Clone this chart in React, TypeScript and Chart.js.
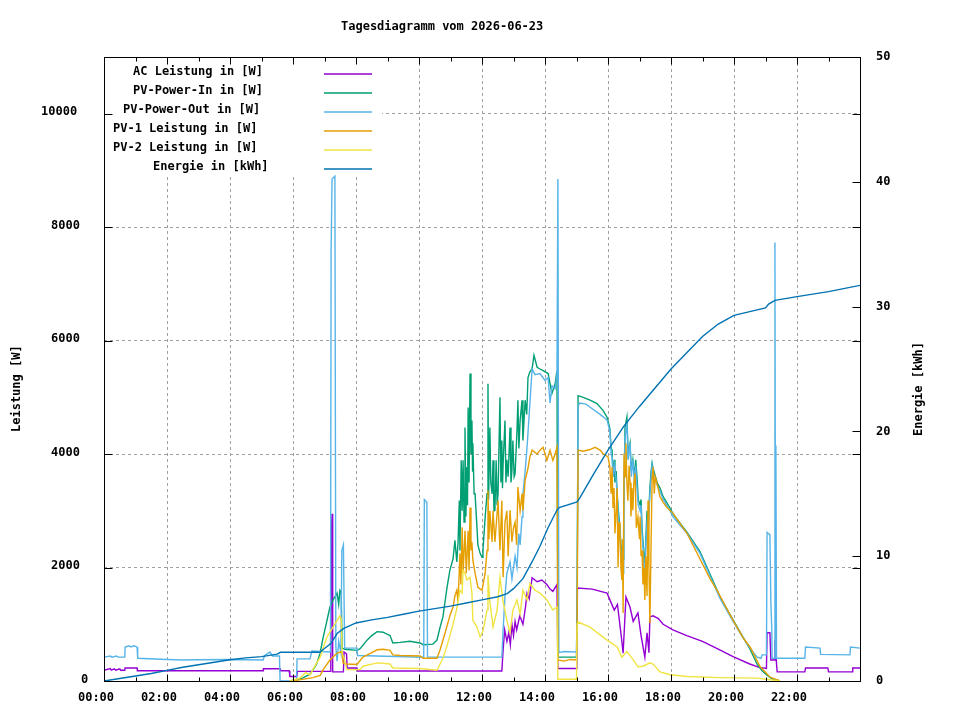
import { useEffect, useRef } from "react";
import { Chart, registerables } from "chart.js";
Chart.register(...registerables);

const FONT = '"DejaVu Sans Mono", monospace';

const chartTitle = "Tagesdiagramm vom 2026-06-23";
const leftAxisTitle = "Leistung [W]";
const rightAxisTitle = "Energie [kWh]";

const hourTicks = [0, 2, 4, 6, 8, 10, 12, 14, 16, 18, 20, 22, 24];
const hourLabels = ["00:00", "02:00", "04:00", "06:00", "08:00", "10:00", "12:00", "14:00", "16:00", "18:00", "20:00", "22:00", ""];
const powerTicks = [0, 2000, 4000, 6000, 8000, 10000];
const energyTicks = [0, 10, 20, 30, 40, 50];

const seriesLabels = [
  "AC Leistung in [W]",
  "PV-Power-In in [W]",
  "PV-Power-Out in [W]",
  "PV-1 Leistung in [W]",
  "PV-2 Leistung in [W]",
  "Energie in [kWh]",
];
const seriesColors = ["#9400d3", "#009e73", "#56b4e9", "#e69f00", "#f0e442", "#0072b2"];

// [hour, W]
const acPower: [number, number][] = [
  [0, 190], [0.2, 220], [0.23, 190], [0.33, 215], [0.37, 190], [0.5, 215], [0.53, 190], [0.66, 190], [0.67, 230],
  [1.05, 230], [1.06, 180], [5.05, 180], [5.06, 215], [5.59, 215], [5.6, 180], [5.88, 180], [5.9, 80], [6.12, 80],
  [6.14, 170], [7.2, 170], [7.21, 2500], [7.24, 2950], [7.26, 160], [7.6, 160], [7.62, 510], [7.7, 480], [7.72, 230],
  [8.03, 230], [8.05, 175], [12.63, 175], [12.67, 545], [12.72, 900], [12.79, 700], [12.85, 850], [12.9, 640],
  [12.95, 1000], [13.0, 800], [13.05, 1050], [13.1, 900], [13.2, 1150], [13.3, 1000], [13.38, 1300], [13.43, 1550],
  [13.5, 1450], [13.59, 1820], [13.75, 1750], [13.9, 1780], [14.06, 1700], [14.16, 1620], [14.25, 1580], [14.38, 1700],
  [14.41, 220], [15.01, 220], [15.03, 1640], [15.5, 1620], [15.97, 1550], [16.06, 1430], [16.2, 1250], [16.3, 1350],
  [16.44, 700], [16.48, 490], [16.57, 1480], [16.7, 1300], [16.8, 1050], [16.95, 1200], [17.05, 800], [17.17, 420],
  [17.24, 850], [17.3, 500], [17.33, 1130], [17.43, 1150], [17.6, 1100], [17.75, 1000], [18.06, 900], [18.5, 800],
  [19.0, 700], [19.5, 560], [19.97, 430], [20.5, 300], [20.8, 240], [21.03, 220], [21.05, 850], [21.14, 850],
  [21.17, 370], [21.28, 370], [21.3, 720], [21.35, 300], [21.37, 160], [22.25, 160], [22.27, 230], [22.98, 230],
  [23.0, 160], [23.75, 160], [23.77, 230], [24, 230],
];

const pvPowerIn: [number, number][] = [
  [5.9, 0], [6.3, 50], [6.54, 120], [6.63, 190], [6.75, 300], [6.86, 490], [6.95, 750], [7.08, 1070], [7.17, 1300],
  [7.27, 1430], [7.35, 1500], [7.4, 1550], [7.45, 1350], [7.49, 1600], [7.53, 1570], [7.56, 580], [7.65, 560],
  [8.03, 540], [8.13, 570], [8.35, 720], [8.5, 800], [8.67, 870], [8.86, 860], [9.0, 820], [9.08, 800], [9.17, 670],
  [9.4, 680], [9.71, 700], [10.03, 670], [10.13, 640], [10.44, 650], [10.57, 720], [10.67, 950], [10.76, 1130],
  [10.89, 1650], [10.98, 1950], [11.08, 2150], [11.14, 2480], [11.2, 2100], [11.24, 2450], [11.28, 3180], [11.3, 2300],
  [11.34, 3890], [11.37, 3000], [11.4, 3890], [11.43, 2800], [11.46, 4470], [11.49, 2900], [11.52, 3770], [11.54, 3100],
  [11.56, 4820], [11.59, 3500], [11.62, 5420], [11.65, 4000], [11.68, 4590], [11.7, 3700], [11.71, 4190], [11.75, 3300],
  [11.78, 3300], [11.84, 2710], [11.87, 2400], [11.94, 2250], [12.0, 2180], [12.03, 2300], [12.1, 2890], [12.16, 3300],
  [12.19, 5240], [12.21, 3200], [12.25, 4470], [12.28, 3500], [12.32, 3300], [12.35, 3890], [12.38, 3000], [12.41, 3010],
  [12.45, 3890], [12.48, 3100], [12.51, 3300], [12.57, 5000], [12.6, 3500], [12.63, 4240], [12.65, 3400], [12.67, 3830],
  [12.73, 4590], [12.76, 3500], [12.79, 3900], [12.83, 3600], [12.89, 4470], [12.92, 3500], [12.95, 3710], [12.98, 4240],
  [13.02, 3600], [13.05, 3650], [13.11, 4400], [13.14, 4950], [13.17, 4100], [13.21, 4590], [13.27, 4950], [13.3, 4240],
  [13.37, 4950], [13.42, 4700], [13.46, 5350], [13.52, 5450], [13.59, 5500], [13.65, 5740], [13.75, 5530], [13.84, 5500],
  [13.94, 5470], [14.1, 5420], [14.16, 5240], [14.22, 5070], [14.32, 5240], [14.38, 5470], [14.41, 420], [15.0, 420],
  [15.02, 1500], [15.05, 5030], [15.21, 5000], [15.43, 4950], [15.65, 4890], [15.84, 4770], [15.97, 4650], [16.06, 4450],
  [16.1, 4100], [16.13, 4070], [16.16, 3600], [16.2, 3900], [16.22, 3500], [16.26, 3700], [16.29, 3300], [16.33, 3000],
  [16.38, 2700], [16.41, 2400], [16.44, 2250], [16.48, 2150], [16.5, 3000], [16.54, 4470], [16.6, 4650], [16.64, 4000],
  [16.7, 4190], [16.74, 3700], [16.79, 3900], [16.84, 3600], [16.88, 3900], [16.92, 3600], [16.96, 3200], [17.02, 3100],
  [17.05, 3200], [17.08, 2700], [17.12, 2400], [17.17, 1950], [17.2, 2500], [17.24, 3000], [17.28, 2800], [17.33, 3400],
  [17.37, 3700], [17.4, 3840], [17.43, 3750], [17.56, 3500], [17.65, 3400], [17.75, 3250], [17.97, 3050], [18.06, 2950],
  [18.51, 2620], [18.92, 2280], [19.24, 1880], [19.56, 1480], [19.97, 1080], [20.3, 760], [20.51, 560], [20.73, 300],
  [20.89, 180], [21.05, 100], [21.2, 40], [21.46, 0],
];

const pvPowerOut: [number, number][] = [
  [0, 420], [0.2, 440], [0.25, 420], [0.4, 440], [0.45, 420], [0.66, 420], [0.67, 600], [0.8, 620], [0.85, 600],
  [0.95, 620], [1.05, 600], [1.07, 400], [2.0, 380], [2.5, 370], [3.0, 375], [4.0, 380], [5.05, 370], [5.1, 450],
  [5.27, 510], [5.35, 440], [5.57, 440], [5.59, 0], [6.11, 0], [6.13, 390], [6.54, 390], [6.6, 530], [7.19, 510],
  [7.21, 7600], [7.24, 8850], [7.33, 8900], [7.36, 600], [7.4, 350], [7.45, 700], [7.52, 500], [7.55, 2300], [7.6, 2400],
  [7.64, 580], [8.03, 580], [8.05, 450], [10.15, 420], [10.17, 3200], [10.25, 3150], [10.27, 420], [12.6, 420],
  [12.63, 420], [12.67, 900], [12.73, 1500], [12.79, 1900], [12.89, 2100], [12.95, 1800], [13.05, 2200], [13.11, 2000],
  [13.17, 2600], [13.21, 2400], [13.27, 2890], [13.3, 3300], [13.37, 3700], [13.43, 4120], [13.52, 4890], [13.59, 5500],
  [13.68, 5400], [13.84, 5420], [14.0, 5300], [14.1, 5350], [14.16, 4900], [14.22, 5200], [14.32, 5150], [14.38, 5400],
  [14.41, 8850], [14.44, 500], [14.6, 520], [15.0, 510], [15.02, 1450], [15.05, 4850], [15.11, 4900], [15.3, 4880],
  [15.5, 4800], [15.75, 4700], [15.97, 4600], [16.06, 4400], [16.1, 4000], [16.13, 3950], [16.16, 3600], [16.2, 3800],
  [16.22, 3700], [16.26, 3550], [16.29, 3300], [16.33, 2900], [16.38, 2650], [16.41, 2300], [16.44, 2200], [16.48, 1900],
  [16.5, 2900], [16.54, 4300], [16.6, 4550], [16.64, 3900], [16.7, 4200], [16.74, 3600], [16.79, 3900], [16.84, 3500],
  [16.88, 3800], [16.92, 3400], [16.96, 3100], [17.02, 3000], [17.05, 3100], [17.08, 2600], [17.12, 2300], [17.17, 1800],
  [17.2, 2400], [17.24, 2800], [17.28, 2700], [17.33, 3300], [17.37, 3600], [17.4, 3800], [17.43, 3700], [17.56, 3450],
  [17.65, 3350], [17.75, 3200], [17.97, 3000], [18.06, 2900], [18.51, 2600], [18.92, 2250], [19.24, 1850], [19.56, 1450],
  [19.97, 1050], [20.3, 750], [20.51, 580], [20.73, 420], [20.86, 400], [20.89, 460], [21.03, 460], [21.05, 2620],
  [21.14, 2580], [21.17, 1400], [21.2, 900], [21.21, 400], [21.28, 400], [21.3, 7730], [21.32, 400], [21.33, 4150],
  [21.35, 400], [22.25, 400], [22.27, 600], [22.73, 580], [22.75, 470], [23.68, 460], [23.7, 600], [24, 580],
];

const pv1Power: [number, number][] = [
  [5.9, 0], [6.2, 20], [6.63, 60], [6.86, 100], [6.95, 190], [7.17, 370], [7.4, 490], [7.55, 520], [7.59, 320],
  [7.71, 300], [8.03, 290], [8.22, 420], [8.5, 500], [8.67, 550], [8.86, 560], [9.08, 540], [9.17, 460], [9.4, 450],
  [10.03, 440], [10.13, 400], [10.57, 400], [10.67, 550], [10.83, 850], [10.98, 1150], [11.08, 1300], [11.14, 1500],
  [11.2, 1600], [11.24, 1400], [11.3, 2250], [11.33, 1700], [11.37, 2710], [11.4, 1900], [11.46, 2650], [11.5, 1900],
  [11.56, 2650], [11.59, 1950], [11.62, 3060], [11.65, 2300], [11.68, 2450], [11.71, 2130], [11.78, 1900], [11.87, 1650],
  [12.0, 1600], [12.1, 1900], [12.16, 2300], [12.19, 3360], [12.22, 2500], [12.25, 3000], [12.32, 2450], [12.35, 3000],
  [12.41, 2450], [12.51, 3180], [12.57, 2300], [12.63, 3180], [12.67, 1830], [12.73, 2800], [12.79, 3000], [12.83, 2200],
  [12.89, 3010], [12.95, 2450], [13.0, 2700], [13.05, 2800], [13.1, 2400], [13.14, 3420], [13.21, 3000], [13.27, 3300],
  [13.3, 3000], [13.37, 3540], [13.46, 3750], [13.52, 3950], [13.59, 4070], [13.75, 4000], [13.84, 4070], [13.94, 4120],
  [14.06, 3890], [14.16, 4070], [14.25, 3890], [14.32, 4000], [14.38, 4120], [14.41, 370], [14.6, 350], [14.8, 380],
  [15.0, 370], [15.02, 1000], [15.05, 4070], [15.21, 4050], [15.43, 4080], [15.59, 4120], [15.75, 4070], [15.84, 4010],
  [16.0, 3950], [16.06, 3770], [16.1, 3300], [16.13, 3770], [16.16, 3060], [16.19, 3400], [16.22, 2600], [16.26, 3000],
  [16.29, 3400], [16.32, 2000], [16.35, 2800], [16.38, 2660], [16.41, 2000], [16.44, 1780], [16.46, 2500], [16.48, 1200],
  [16.51, 4010], [16.54, 3600], [16.57, 4190], [16.6, 3500], [16.63, 3180], [16.67, 3800], [16.7, 3500], [16.73, 2900],
  [16.76, 3400], [16.79, 3010], [16.82, 3500], [16.86, 3660], [16.9, 2700], [16.95, 2890], [17.0, 2500], [17.02, 2900],
  [17.05, 2200], [17.08, 2300], [17.11, 1700], [17.14, 2000], [17.17, 1430], [17.2, 2200], [17.24, 1500], [17.27, 3180],
  [17.3, 2000], [17.33, 1020], [17.37, 2500], [17.4, 3540], [17.43, 3770], [17.47, 3300], [17.5, 3600], [17.56, 3480],
  [17.65, 3250], [17.75, 3150], [17.87, 3060], [18.06, 2960], [18.51, 2600], [18.92, 2150], [19.24, 1800], [19.46, 1600],
  [19.97, 1070], [20.3, 750], [20.51, 600], [20.83, 250], [21.14, 70], [21.46, 0],
];

const pv2Power: [number, number][] = [
  [5.9, 0], [6.22, 50], [6.4, 150], [6.54, 100], [6.63, 200], [6.86, 420], [7.08, 780], [7.27, 950], [7.4, 1070],
  [7.49, 1150], [7.53, 1100], [7.56, 490], [7.62, 400], [7.71, 200], [8.13, 200], [8.22, 260], [8.67, 320], [9.08, 300],
  [9.17, 230], [10.03, 220], [10.57, 190], [10.67, 300], [10.76, 400], [10.89, 620], [11.08, 1000], [11.21, 1300],
  [11.3, 1600], [11.37, 1550], [11.4, 1950], [11.46, 1900], [11.52, 1780], [11.62, 1830], [11.68, 1550], [11.71, 1070],
  [11.84, 950], [11.94, 780], [12.03, 880], [12.16, 1250], [12.19, 1870], [12.25, 1400], [12.35, 950], [12.48, 1250],
  [12.57, 1830], [12.67, 1400], [12.79, 1070], [12.89, 850], [12.98, 1250], [13.11, 1430], [13.21, 1180], [13.3, 1600],
  [13.43, 1430], [13.52, 1720], [13.68, 1600], [13.84, 1550], [14.06, 1430], [14.25, 1250], [14.38, 1300], [14.41, 30],
  [15.0, 30], [15.02, 1000], [15.05, 1040], [15.43, 950], [15.97, 720], [16.29, 600], [16.44, 420], [16.6, 520],
  [16.79, 380], [16.95, 250], [17.11, 260], [17.33, 320], [17.43, 300], [17.65, 160], [17.97, 110], [18.51, 80],
  [19.56, 60], [20.73, 50], [21.46, 0],
];

// [hour, kWh]
const energy: [number, number][] = [
  [0, 0], [0.5, 0.2], [1, 0.4], [1.5, 0.6], [2, 0.85], [2.5, 1.1], [3, 1.3], [3.5, 1.5], [4, 1.7], [4.5, 1.85],
  [5, 1.95], [5.5, 2.15], [5.6, 2.3], [6.85, 2.3], [7.0, 2.6], [7.2, 3.0], [7.4, 3.8], [7.6, 4.2], [8.0, 4.65],
  [8.5, 4.9], [9, 5.1], [9.5, 5.35], [10, 5.6], [10.5, 5.8], [11, 6.0], [11.5, 6.25], [12, 6.5], [12.5, 6.75],
  [12.8, 7.0], [13.0, 7.4], [13.3, 8.2], [13.6, 9.6], [13.84, 10.8], [14.1, 12.3], [14.38, 13.7], [14.45, 13.9],
  [15.02, 14.35], [15.11, 14.7], [15.5, 16.4], [16.0, 18.5], [16.5, 20.4], [17.0, 22.0], [17.5, 23.5], [18.0, 25.0],
  [18.5, 26.3], [19.0, 27.6], [19.5, 28.6], [20.0, 29.3], [20.5, 29.6], [21.0, 29.9], [21.1, 30.2], [21.3, 30.5],
  [22, 30.8], [23, 31.2], [24, 31.7],
];

const toXY = (pts: [number, number][]) => pts.map(([x, y]) => ({ x, y }));

// gnuplot look: legend box, black border, inward ticks, titles
const gnuplotFrame = {
  id: "gnuplotFrame",
  afterDatasetsDraw(chart: any) {
    const { ctx, chartArea: a, scales } = chart;
    const L = Math.round(a.left) + 0.5;
    const R = Math.round(a.right) + 0.5;
    const T = Math.round(a.top) + 0.5;
    const B = Math.round(a.bottom) + 0.5;
    ctx.save();

    // legend
    ctx.fillStyle = "#fff";
    ctx.fillRect(a.left + 1, a.top + 1, 277, 116);
    ctx.font = `bold 12px ${FONT}`;
    ctx.textBaseline = "middle";
    ctx.textAlign = "left";
    chart.data.datasets.forEach((ds: any, i: number) => {
      const ty = a.top + 15 + i * 19;
      ctx.fillStyle = "#000";
      ctx.fillText(ds.label, 313 - 10 * ds.label.length, ty);
      ctx.strokeStyle = ds.borderColor;
      ctx.lineWidth = 1.5;
      ctx.beginPath();
      ctx.moveTo(324, ty + 2);
      ctx.lineTo(372, ty + 2);
      ctx.stroke();
    });

    // border
    ctx.strokeStyle = "#000";
    ctx.lineWidth = 1;
    ctx.strokeRect(L, T, R - L, B - T);

    ctx.beginPath();
    powerTicks.forEach((v) => {
      const py = Math.round(scales.y.getPixelForValue(v)) + 0.5;
      ctx.moveTo(L, py);
      ctx.lineTo(L + 8, py);
      ctx.moveTo(R, py);
      ctx.lineTo(R - 8, py);
    });
    energyTicks.forEach((v) => {
      const py = Math.round(scales.y2.getPixelForValue(v)) + 0.5;
      ctx.moveTo(R, py);
      ctx.lineTo(R - 8, py);
    });
    for (let h = 0; h <= 24; h++) {
      const px = Math.round(scales.x.getPixelForValue(h)) + 0.5;
      const len = h % 2 === 0 ? 7 : 4;
      ctx.moveTo(px, B);
      ctx.lineTo(px, B - len);
      ctx.moveTo(px, T);
      ctx.lineTo(px, T + len);
    }
    ctx.stroke();

    // left tick labels (gnuplot style justification)
    ctx.fillStyle = "#000";
    powerTicks.forEach((v) => {
      const s = String(v);
      ctx.fillText(s, 91 - 10 * s.length, scales.y.getPixelForValue(v) - 1.5);
    });

    // title
    ctx.fillText(chartTitle, 341, 27);

    // axis titles
    ctx.save();
    ctx.translate(17, 432);
    ctx.rotate(-Math.PI / 2);
    ctx.fillText(leftAxisTitle, 0, 0);
    ctx.restore();
    ctx.save();
    ctx.translate(919, 436);
    ctx.rotate(-Math.PI / 2);
    ctx.fillText(rightAxisTitle, 0, 0);
    ctx.restore();

    ctx.restore();
  },
};

const seriesData = [acPower, pvPowerIn, pvPowerOut, pv1Power, pv2Power, energy];

const App = () => {
  const canvasRef = useRef<HTMLCanvasElement>(null);
  const chartRef = useRef<Chart | null>(null);

  useEffect(() => {
    if (chartRef.current) {
      chartRef.current.destroy();
      chartRef.current = null;
    }

    const tickFont = { family: FONT, size: 12, weight: "bold" as const };
    const gridDash = { display: false, dash: [3, 3] };

    chartRef.current = new Chart(canvasRef.current!, {
      type: "line",
      data: {
        datasets: seriesData.map((pts, i) => ({
          label: seriesLabels[i],
          data: toXY(pts),
          borderColor: seriesColors[i],
          backgroundColor: seriesColors[i],
          borderWidth: 1.4,
          pointRadius: 0,
          tension: 0,
          fill: false,
          yAxisID: i === 5 ? "y2" : "y",
          order: 6 - i,
        })),
      },
      options: {
        animation: false,
        responsive: false,
        devicePixelRatio: 1,
        layout: { padding: { top: 57, left: 0, right: 0, bottom: 0 } },
        plugins: {
          legend: { display: false },
          tooltip: { enabled: false },
          title: { display: false },
        },
        scales: {
          x: {
            type: "linear",
            min: 0,
            max: 24,
            afterBuildTicks: (s: any) => {
              s.ticks = hourTicks.map((v) => ({ value: v }));
            },
            afterFit: (s: any) => {
              s.height = 39;
            },
            ticks: {
              autoSkip: false,
              maxRotation: 0,
              labelOffset: -8,
              padding: 10,
              color: "#000",
              font: tickFont,
              callback: (_v: any, i: number) => hourLabels[i],
            },
            grid: { color: "#a0a0a0", lineWidth: 1, drawTicks: false },
            border: gridDash,
          },
          y: {
            type: "linear",
            position: "left",
            min: 0,
            max: 11000,
            afterBuildTicks: (s: any) => {
              s.ticks = powerTicks.map((v) => ({ value: v }));
            },
            afterFit: (s: any) => {
              s.width = 104;
            },
            ticks: { display: false },
            grid: { color: "#a0a0a0", lineWidth: 1, drawTicks: false },
            border: gridDash,
          },
          y2: {
            type: "linear",
            position: "right",
            min: 0,
            max: 50,
            afterBuildTicks: (s: any) => {
              s.ticks = energyTicks.map((v) => ({ value: v }));
            },
            afterFit: (s: any) => {
              s.width = 100;
            },
            ticks: {
              padding: 16,
              color: "#000",
              font: tickFont,
              callback: (v: any) => String(v),
            },
            grid: { display: false, drawTicks: false },
            border: { display: false },
          },
        },
      },
      plugins: [gnuplotFrame],
    });

    return () => {
      if (chartRef.current) {
        chartRef.current.destroy();
        chartRef.current = null;
      }
    };
  }, []);

  return (
    <div style={{ position: "absolute", left: 0, top: 0, width: 960, height: 720, background: "#fff" }}>
      <canvas ref={canvasRef} width={960} height={720} style={{ width: 960, height: 720 }} />
    </div>
  );
};

export default App;
